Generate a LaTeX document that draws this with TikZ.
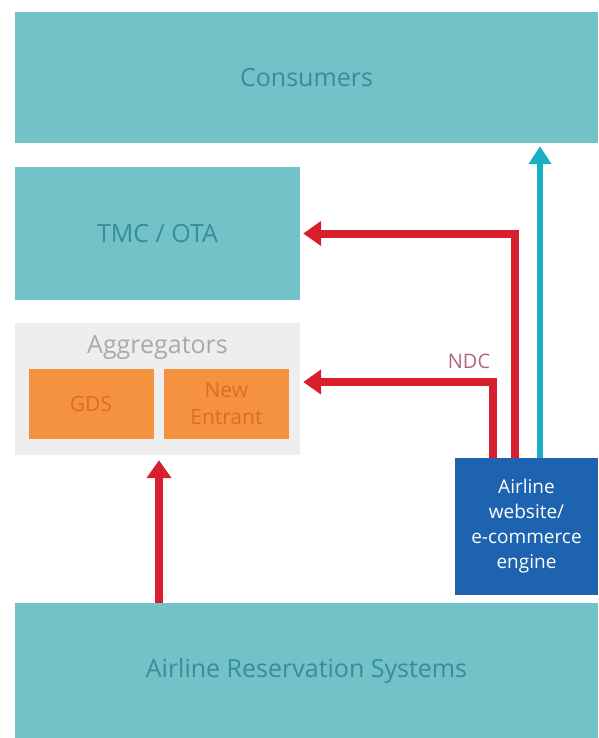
\documentclass[tikz,border=0pt]{standalone}
\usepackage{fontspec}
\setmainfont{Open Sans}
\usetikzlibrary{arrows.meta,positioning}
\definecolor{boxteal}{HTML}{72C3C7}
\definecolor{textteal}{HTML}{3A8C97}
\definecolor{agggray}{HTML}{EEEEEF}
\definecolor{aggtext}{HTML}{A9A9A9}
\definecolor{orangebox}{HTML}{F5923F}
\definecolor{orangetext}{HTML}{D8701F}
\definecolor{engineblue}{HTML}{1E63B0}
\definecolor{ndcred}{HTML}{D81F2D}
\definecolor{ndctext}{HTML}{B3667A}
\definecolor{webcyan}{HTML}{1BAFC3}
\tikzset{font=\fontsize{25}{30}\selectfont}
\tikzset{box/.style={fill=boxteal, text=textteal, inner sep=0pt}}
\tikzset{agent/.style={fill=orangebox, text=orangetext, inner sep=0pt, minimum width=125, minimum height=70, align=center, font=\fontsize{21}{27}\selectfont}}
\tikzset{feed/.style={line width=8pt, draw=ndcred, -{Triangle[width=24pt,length=18pt]}, shorten >=3pt}}

\begin{document}
\begin{tikzpicture}[x=1pt,y=-1pt]
\useasboundingbox (0,0) rectangle (598,738);
\node[box, minimum width=583, minimum height=131] (cons) at (306.5,77.5) {Consumers};
\node[box, minimum width=285, minimum height=133] (tmc) at (157.5,233.5) {TMC / OTA};
\node[fill=agggray, minimum width=285, minimum height=132, inner sep=0pt] (agg) at (157.5,389) {};
\node[text=aggtext] (aggtitle) at (157.5,348) {Aggregators};
\node[agent] (gds) at (91,404) {GDS};
\node[agent, right=10pt of gds] (newent) {New\\Entrant};
\node[box, minimum width=583, minimum height=135] (ars) at (306.5,670.5) {Airline Reservation Systems};
\coordinate (gap) at (159,0);
\coordinate (ndc1) at (493,382);
\coordinate (ndc2) at (515,234);
\coordinate (web1) at (540,0);
\draw[feed, shorten >=5pt] (ars.north -| gap) -- (agg.south -| gap);
\draw[feed] (ndc1 |- 0,458) |- (agg.east |- ndc1);
\draw[feed] (ndc2 |- 0,458) |- (tmc.east);
\draw[line width=6pt, draw=webcyan, -{Triangle[width=22pt,length=18pt]}, shorten >=3pt] (web1 |- 0,458) -- (cons.south -| web1);
\node[text=ndctext, font=\fontsize{20}{24}\selectfont] (ndc) at (469,361) {NDC};
\node[fill=engineblue, text=white, minimum width=143, minimum height=137, inner sep=0pt, align=center, font=\fontsize{19}{25}\selectfont] (web) at (526.5,526.5) {Airline\\website/\\e-commerce\\engine};
\end{tikzpicture}
\end{document}
